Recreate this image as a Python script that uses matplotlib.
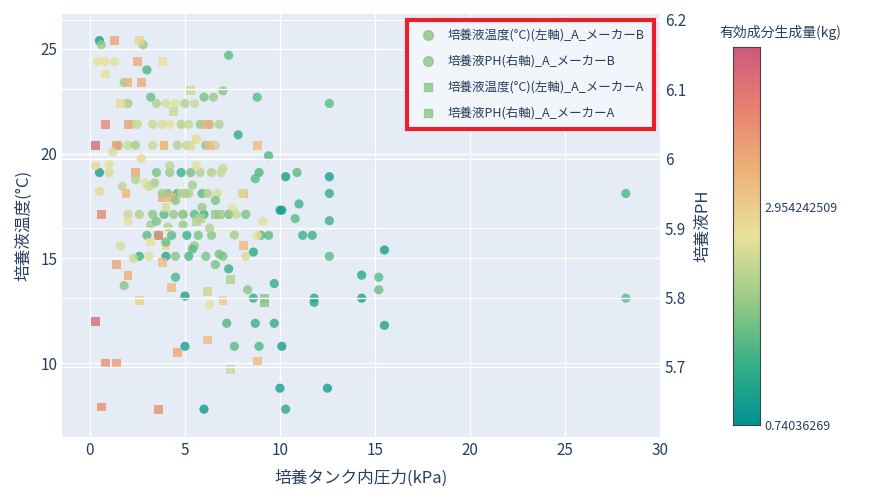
import matplotlib
matplotlib.use("Agg")
import matplotlib.pyplot as plt
from matplotlib.colors import LinearSegmentedColormap, Normalize
from matplotlib.lines import Line2D
import numpy as np

plt.rcParams['font.family'] = ['Noto Sans CJK JP', 'DejaVu Sans']

# Temperature, maker B (circles): x, y, value
tb_x = [28.2,28.2,15.5,15.5,15.2,15.2,14.3,14.3,12.6,12.6,12.6,12.6,12.6,12.5,11.8,11.8,11.7,11.2,11.0,10.9,10.8,10.3,10.3,10.1,10.0,10.0,10.1,9.7,9.7,9.4,9.4,9.0,8.8,8.9,8.7,8.6,8.6,8.7,8.9,7.8,7.3,7.3,7.2,7.6,7.3,6.0,5.0,5.0,
        0.5,0.5,0.6,0.4,1.3,1.8,2.8,3.0,3.2,3.5,4.0,4.5,5.0,5.5,6.0,6.5,7.0,2.2,2.5,3.8,4.2,4.8,5.2,5.8,6.3,6.8,0.5,1.0,1.5,2.0,2.4,3.3,3.9,4.6,5.1,5.6,6.1,6.6,
        3.5,4.2,4.8,5.3,5.8,6.4,7.0,2.9,3.4,4.1,4.6,5.0,5.4,5.9,6.2,6.7,7.5,2.0,2.6,3.3,3.9,4.4,4.9,5.5,6.0,7.7,8.2,3.0,3.6,4.3,5.1,5.7,6.4,2.6,3.1,4.0,4.5,5.2,6.1,7.0,8.2,1.6,2.3,3.2,4.1,4.9,5.5,6.8,1.8,4.5,6.6,8.3,0.8,2.0,3.3,5.6,6.3,8.8]
tb_y = [18.1,13.1,15.4,11.8,14.1,13.5,14.2,13.1,22.4,18.9,18.1,16.8,15.1,8.8,13.1,12.9,16.1,16.1,17.6,19.1,16.9,18.9,7.8,17.3,17.3,8.8,10.8,13.8,11.9,19.9,16.1,16.1,22.7,19.1,18.8,15.3,13.1,11.9,10.8,20.9,24.7,17.1,11.9,10.8,14.5,7.8,13.2,10.8,
        25.4,19.1,25.2,24.4,24.4,23.4,25.2,24.0,22.7,22.4,22.4,22.4,22.4,22.4,22.7,22.7,23.0,21.4,21.4,21.4,21.4,21.4,21.4,21.4,21.4,21.4,18.2,19.5,20.4,20.4,20.4,20.4,20.4,20.4,20.4,20.7,20.4,20.4,
        19.1,19.1,19.1,19.1,19.1,19.1,19.3,18.6,18.6,18.1,18.1,18.1,18.5,18.1,18.1,18.1,17.4,17.1,17.1,17.1,17.1,17.1,17.1,17.1,17.1,17.1,17.1,16.1,16.1,16.1,16.1,16.1,16.1,15.1,15.1,15.1,15.1,15.1,15.1,15.1,15.1,15.6,15.0,16.6,16.5,16.6,15.6,15.2,13.7,14.1,14.7,13.5,24.4,22.4,21.4,20.7,12.8,16.1]
tb_c = [1.5,1.6,1.0,1.1,1.6,1.7,1.2,1.1,1.6,1.0,1.3,1.4,1.6,1.0,1.2,1.2,1.4,1.4,1.4,1.6,1.6,1.0,1.2,1.0,1.0,1.0,1.0,1.3,1.3,1.5,1.6,1.6,1.6,1.5,1.6,1.2,1.3,1.4,1.5,1.3,1.6,1.3,1.5,1.6,1.3,0.9,1.0,1.0,
        1.0,1.0,2.0,2.7,2.6,2.0,2.0,1.5,1.7,2.2,2.5,2.6,2.2,2.4,1.8,2.0,1.9,2.2,2.4,2.5,2.6,2.2,2.4,2.0,2.1,2.2,2.8,2.6,2.1,2.4,2.1,2.4,2.6,2.2,2.3,2.6,1.9,2.4,
        1.8,2.0,1.4,1.8,2.2,2.2,2.4,2.6,2.1,1.8,1.4,1.9,2.1,1.6,2.2,2.5,2.7,2.4,2.2,1.9,1.6,2.0,1.8,1.6,1.4,2.4,1.8,1.6,1.4,1.6,1.4,1.8,1.9,1.4,2.6,1.2,1.9,1.5,1.8,1.8,2.5,2.5,2.4,2.1,2.2,2.0,2.0,1.8,1.9,1.5,1.8,1.9,2.7,2.1,2.4,2.6,2.7,2.7]

# pH, maker B (circles, right axis)
pb_x = [0.3,1.0,1.7,2.4,3.1,3.8,4.5,5.2,5.9,6.6,7.3,8.0,2.0,3.5,4.9,6.3,7.6,9.1,1.2,2.7,4.2,5.6,6.9,4.0,5.4]
pb_y = [5.99,5.98,5.96,5.97,5.96,5.95,5.94,5.95,5.93,5.94,5.92,5.95,5.91,5.91,5.92,5.90,5.89,5.91,6.01,6.00,5.99,5.99,5.98,5.88,5.87]
pb_c = [2.8,2.5,2.3,2.2,2.4,2.1,1.9,2.2,2.0,1.8,2.1,2.5,2.7,1.8,2.0,2.2,2.1,2.6,2.5,2.8,2.3,2.6,2.4,1.7,1.6]

# Temperature, maker A (squares)
ta_x = [0.3,0.3,0.6,0.6,0.8,0.8,1.3,1.4,1.4,1.4,2.0,2.6,1.9,2.7,2.0,2.6,3.8,4.3,3.6,3.6,4.3,3.8,4.6,5.3,4.4,6.2,6.2,6.2,7.0,8.1,8.1,8.8,8.8,7.4,7.4,9.2,9.2,6.3,3.9,2.4,2.0,1.6,2.5,3.8,0.8,5.8,6.6,4.0,5.3]
ta_y = [20.4,12.0,17.1,7.9,21.4,10.0,25.4,10.0,14.7,20.4,14.2,13.0,18.1,23.4,23.4,25.4,17.9,17.9,7.8,16.1,13.6,14.8,10.5,23.0,22.0,21.4,11.1,13.4,13.0,18.1,15.6,20.4,10.1,14.0,9.7,12.9,13.1,20.4,20.4,19.1,21.4,22.4,24.4,24.4,23.8,16.9,17.1,15.6,20.4]
ta_c = [4.3,4.3,3.9,3.8,3.9,3.8,3.5,3.6,3.5,3.6,3.4,2.9,3.3,3.4,3.3,2.9,3.4,3.3,3.8,3.8,3.2,3.2,3.5,2.4,2.4,3.4,3.2,2.4,3.0,3.2,3.2,3.2,3.2,2.2,2.4,1.9,1.9,3.2,3.3,3.5,3.5,2.8,3.4,2.7,2.7,2.2,2.0,2.8,2.5]

# pH, maker A (squares, right axis)
pa_x = [4.0,5.6,6.8,3.2,4.8]
pa_y = [5.93,5.91,5.92,5.88,5.95]
pa_c = [2.5,2.2,2.0,2.7,2.3]

cb_ticks = [0.74036269, 2.954242509]
cmin, cmax = 0.74036269, 4.58

temps = ['#009392', '#39b185', '#9ccb86', '#e9e29c', '#eeb479', '#e88471', '#cf597e']
cmap = LinearSegmentedColormap.from_list('temps', temps)
norm = Normalize(cmin, cmax)

fig = plt.figure(figsize=(8.7, 4.98), dpi=100)
ax = fig.add_axes([62/870, 61/498, 598/870, 423/498])
ax2 = ax.twinx()
bg = '#E5ECF6'
ax.set_facecolor(bg)
ax.set_zorder(0)
ax2.set_zorder(1)
ax2.patch.set_visible(False)

kw = dict(cmap=cmap, norm=norm, alpha=0.8, linewidths=0)
ax.scatter(tb_x, tb_y, c=tb_c, s=44, marker='o', **kw)
ax.scatter(ta_x, ta_y, c=ta_c, s=40, marker='s', **kw)
ax2.scatter(pb_x, pb_y, c=pb_c, s=44, marker='o', **kw)
ax2.scatter(pa_x, pa_y, c=pa_c, s=40, marker='s', **kw)

ax.set_xlim(-1.47, 30)
ax.set_ylim(6.47, 26.67)
ax2.set_ylim(5.599, 6.2086)
ax.set_xticks([0, 5, 10, 15, 20, 25, 30])
ax.set_yticks([10, 15, 20, 25])
ax2.set_yticks([5.7, 5.8, 5.9, 6.0, 6.1, 6.2])
ax2.set_yticklabels(['5.7', '5.8', '5.9', '6', '6.1', '6.2'])
ax.grid(True, color='white', linewidth=1)
ax.set_axisbelow(True)
for y in [5.7, 5.8, 5.9, 6.0, 6.1, 6.2]:
    ax2.axhline(y, color='white', linewidth=1, zorder=0)
for a in (ax, ax2):
    for s in a.spines.values():
        s.set_visible(False)
    a.tick_params(length=0, labelsize=11, colors='#2a3f5f')
ax.set_xlabel('培養タンク内圧力(kPa)', fontsize=12, color='#2a3f5f', labelpad=8)
ax.set_ylabel('培養液温度(°C)', fontsize=12, color='#2a3f5f', labelpad=6)
ax2.set_ylabel('培養液PH', fontsize=12, color='#2a3f5f', labelpad=6)

lc = cmap(norm(1.9))
handles = [Line2D([], [], marker='o', ls='', color=lc, markersize=7, alpha=0.8),
           Line2D([], [], marker='o', ls='', color=lc, markersize=7, alpha=0.8),
           Line2D([], [], marker='s', ls='', color=lc, markersize=6, alpha=0.8),
           Line2D([], [], marker='s', ls='', color=lc, markersize=6, alpha=0.8)]
labels = ['培養液温度(°C)(左軸)_A_メーカーB', '培養液PH(右軸)_A_メーカーB',
          '培養液温度(°C)(左軸)_A_メーカーA', '培養液PH(右軸)_A_メーカーA']
leg = ax2.legend(handles, labels, loc='upper right', bbox_to_anchor=(1.0, 1.0),
                 fontsize=9, frameon=True, fancybox=False, labelspacing=1.05,
                 borderpad=0.7, handletextpad=0.6, labelcolor='#2a3f5f')
leg.get_frame().set_facecolor('#F2F5FA')
leg.get_frame().set_edgecolor('#E8202A')
leg.get_frame().set_linewidth(3)
leg.get_frame().set_alpha(1)

cax = fig.add_axes([733/870, 73/498, 27/870, 378/498])
grad = np.linspace(cmin, cmax, 256).reshape(-1, 1)
cax.imshow(grad, cmap=cmap, norm=norm, aspect='auto', origin='lower',
           extent=[0, 1, cmin, cmax])
cax.set_xticks([])
cax.yaxis.tick_right()
cax.set_yticks(cb_ticks)
cax.set_yticklabels(['0.74036269', '2.954242509'])
cax.tick_params(length=0, labelsize=9, colors='#2a3f5f')
for s in cax.spines.values():
    s.set_color('#444444'); s.set_linewidth(0.8)
fig.text(780/870, 1 - 33/498, '有効成分生成量(kg)', ha='center', va='center',
         fontsize=10, color='#2a3f5f')

fig.savefig('out.png', dpi=100)
